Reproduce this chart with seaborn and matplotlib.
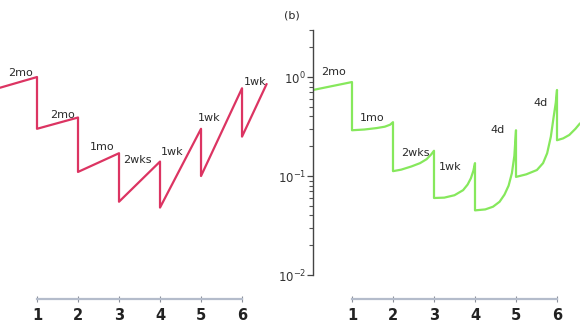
import numpy as np
import pandas as pd
import matplotlib
matplotlib.use("Agg")
import matplotlib.pyplot as plt
import matplotlib.ticker as mticker
import seaborn as sns

# Panel (a): stepwise decay with straight-line recovery between doses
a_x = [0.1, 1, 1, 2, 2, 3, 3, 4, 4, 5, 5, 6, 6, 6.6]
a_y = [0.78, 1.0, 0.30, 0.39, 0.11, 0.17, 0.055, 0.14, 0.048, 0.30, 0.10, 0.77, 0.25, 0.85]
a_labels = ["2mo", "2mo", "1mo", "2wks", "1wk", "1wk", "1wk"]
a_label_x = [0.59, 1.61, 2.59, 3.44, 4.29, 5.2, 6.32]
a_label_y = [1.1, 0.41, 0.196, 0.145, 0.175, 0.385, 0.89]

# Panel (b): curved recovery between doses
b_x = [0.05, 1.0,
       1.0, 1.3, 1.6, 1.8, 1.93, 2.0,
       2.0, 2.2, 2.45, 2.66, 2.82, 2.93, 3.0,
       3.0, 3.25, 3.5, 3.71, 3.82, 3.9, 3.96, 4.0,
       4.0, 4.25, 4.44, 4.6, 4.72, 4.82, 4.9, 4.96, 5.0,
       5.0, 5.25, 5.51, 5.66, 5.76, 5.85, 5.92, 5.97, 6.0,
       6.0, 6.15, 6.3, 6.45, 6.56]
b_y = [0.74, 0.89,
       0.29, 0.295, 0.305, 0.315, 0.33, 0.35,
       0.112, 0.116, 0.125, 0.135, 0.148, 0.165, 0.18,
       0.06, 0.0605, 0.064, 0.072, 0.082, 0.095, 0.113, 0.135,
       0.045, 0.046, 0.049, 0.055, 0.065, 0.08, 0.107, 0.16, 0.29,
       0.098, 0.104, 0.115, 0.135, 0.17, 0.25, 0.4, 0.55, 0.74,
       0.23, 0.24, 0.26, 0.3, 0.34]
b_labels = ["2mo", "1mo", "2wks", "1wk", "4d", "4d"]
b_label_x = [0.54, 1.49, 2.54, 3.39, 4.56, 5.59]
b_label_y = [1.12, 0.385, 0.17, 0.123, 0.29, 0.55]

x_ticks = [1, 2, 3, 4, 5, 6]
y_major = [1e-2, 1e-1, 1e0]
y_major_labels = [r"$10^{-2}$", r"$10^{-1}$", r"$10^{0}$"]

sns.set_style("white")
plt.rcParams["font.family"] = ["DejaVu Sans"]

RED = "#dc3462"
GREEN = "#86e85c"
AXIS_BLUE = "#b4bccb"
TEXT = "#2a2a2a"

fig = plt.figure(figsize=(5.8, 3.3), dpi=100)
bottom = 31 / 330
height = 299 / 330
ax_a = fig.add_axes([0, bottom, 290 / 580, height])
ax_b = fig.add_axes([313 / 580, bottom, 267 / 580, height])

ylim = (10 ** -2.242, 10 ** 0.778)

df_a = pd.DataFrame({"x": a_x, "y": a_y})
df_b = pd.DataFrame({"x": b_x, "y": b_y})
sns.lineplot(data=df_a, x="x", y="y", sort=False, estimator=None, color=RED, lw=1.6,
             solid_joinstyle="round", ax=ax_a)
sns.lineplot(data=df_b, x="x", y="y", sort=False, estimator=None, color=GREEN, lw=1.6,
             solid_joinstyle="round", ax=ax_b)

for ax, xl in ((ax_a, (0.0976, 7.17)), (ax_b, (0.049, 6.561))):
    ax.set_yscale("log")
    ax.set_ylim(*ylim)
    ax.set_xlim(*xl)
    ax.set_xlabel("")
    ax.set_ylabel("")
    ax.patch.set_alpha(0)
    for s in ("top", "right"):
        ax.spines[s].set_visible(False)
    ax.spines["bottom"].set_bounds(1, 6)
    ax.spines["bottom"].set_color(AXIS_BLUE)
    ax.spines["bottom"].set_linewidth(1.6)
    ax.xaxis.set_major_locator(mticker.FixedLocator(x_ticks))
    ax.set_xticklabels([str(t) for t in x_ticks])
    ax.tick_params(axis="x", bottom=True, direction="inout", length=5, width=0.8,
                   color="#8a8f99", labelsize=10.5, pad=4, labelcolor="#222222")
    for lab in ax.get_xticklabels():
        lab.set_fontweight("bold")

# Panel (a) has no visible y axis
ax_a.spines["left"].set_visible(False)
ax_a.yaxis.set_major_locator(mticker.NullLocator())
ax_a.yaxis.set_minor_locator(mticker.NullLocator())

# Panel (b) log axis
ax_b.spines["left"].set_bounds(1e-2, 3)
ax_b.spines["left"].set_color("#444444")
ax_b.spines["left"].set_linewidth(1.0)
ax_b.yaxis.set_major_locator(mticker.FixedLocator(y_major))
ax_b.yaxis.set_major_formatter(mticker.FixedFormatter(y_major_labels))
minor = [m * 10.0 ** e for e in (-2, -1, 0) for m in range(2, 10) if m * 10.0 ** e <= 3]
ax_b.yaxis.set_minor_locator(mticker.FixedLocator(minor))
ax_b.yaxis.set_minor_formatter(mticker.NullFormatter())
ax_b.tick_params(axis="y", which="major", left=True, direction="out", length=4,
                 width=0.9, color="#444444", labelsize=8.5, pad=1, labelcolor="#333333")
ax_b.tick_params(axis="y", which="minor", left=True, direction="out", length=3,
                 width=0.8, color="#555555")

for t, x, y in zip(a_labels, a_label_x, a_label_y):
    ax_a.text(x, y, t, ha="center", va="center", fontsize=8, color=TEXT)
for t, x, y in zip(b_labels, b_label_x, b_label_y):
    ax_b.text(x, y, t, ha="center", va="center", fontsize=8, color=TEXT)

fig.text(292 / 580, 1 - 15 / 330, "(b)", ha="center", va="center", fontsize=8, color=TEXT)

fig.savefig("out.png", dpi=100)
